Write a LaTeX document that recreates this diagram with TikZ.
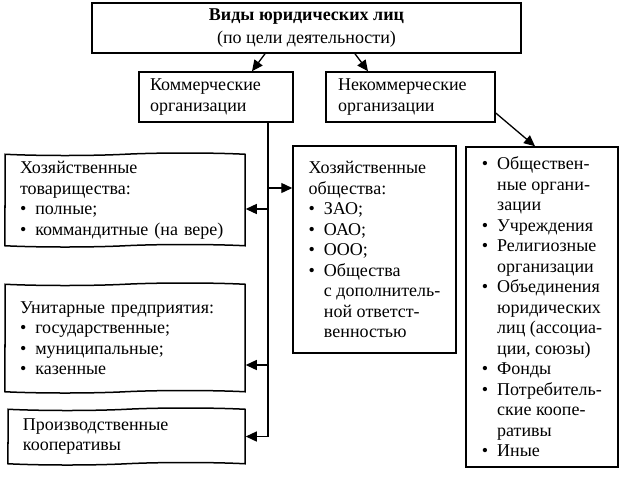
\documentclass[tikz,border=0pt]{standalone}
\usepackage{fontspec}
\setmainfont{Liberation Serif}
\usetikzlibrary{shapes.symbols,arrows.meta}
\newcommand{\itemdot}[1]{\makebox[0.85em][l]{\textbullet}#1}
\newcommand{\itemgap}{\hspace*{0.85em}}
\begin{document}
\begin{tikzpicture}[x=1pt,y=-1pt,
    box/.style = {draw, line width=1.5pt, align=left, inner sep=0pt,
                  font=\fontsize{18}{20.5}\selectfont},
    wavybox/.style = {box, tape, tape bend height=2.5pt},
    link/.style = {line width=1.3pt},
    arr/.style = {link, -{Triangle[length=11pt,width=10pt]}}]
\useasboundingbox (0,0) rectangle (626,488);

\node (top) [box, align=center, minimum width=429pt, minimum height=50pt,
    font=\fontsize{18}{23}\selectfont] at (306.5,28)
    {\textbf{Виды юридических лиц}\\(по цели деятельности)};
\node (com) [box, text width=132pt, minimum width=154pt, minimum height=50pt] at (216,97)
    {Коммерческие\\организации};
\node (noncom) [box, text width=145pt, minimum width=169pt, minimum height=50pt] at (410.5,97)
    {Некоммерческие\\организации};

\node (tov) [wavybox, text width=210pt, minimum width=240pt, minimum height=94pt] at (125,200)
    {Хозяйственные\\товарищества:\\\itemdot{полные;}\\\itemdot{коммандитные (на вере)}};
\node (unit) [wavybox, text width=210pt, minimum width=240pt, minimum height=110pt] at (125,338)
    {Унитарные предприятия:\\\itemdot{государственные;}\\\itemdot{муниципальные;}\\\itemdot{казенные}};
\node (coop) [wavybox, text width=207pt, minimum width=237pt, minimum height=57pt] at (126.5,436.5)
    {Производственные\\кооперативы};

\node (obsh) [box, minimum width=163pt, minimum height=207pt] at (374.5,249.5)
    {Хозяйственные\\общества:\\\itemdot{ЗАО;}\\\itemdot{ОАО;}\\\itemdot{ООО;}\\
     \itemdot{Общества}\\\itemgap с дополнитель-\\\itemgap ной ответст-\\\itemgap венностью};
\node (nonlist) [box, minimum width=152pt, minimum height=320pt] at (542,307)
    {\itemdot{Обществен-}\\\itemgap ные органи-\\\itemgap зации\\\itemdot{Учреждения}\\
     \itemdot{Религиозные}\\\itemgap организации\\\itemdot{Объединения}\\\itemgap юридических\\
     \itemgap лиц (ассоциа-\\\itemgap ции, союзы)\\\itemdot{Фонды}\\\itemdot{Потребитель-}\\
     \itemgap ские коопе-\\\itemgap ративы\\\itemdot{Иные}};

\draw[arr] ([xshift=-41.5pt]top.south) -- ([xshift=36pt]com.north);
\draw[arr] ([xshift=48.5pt]top.south) -- ([xshift=-42.5pt]noncom.north);
\draw[arr] ([yshift=-16pt]noncom.east) -- ([xshift=-7pt]nonlist.north);

\coordinate (trunk) at ([xshift=52pt]com.south);
\draw[link] (trunk) -- (trunk |- coop.east);
\draw[arr] ([yshift=61.5pt]obsh.west -| trunk) -- ([yshift=61.5pt]obsh.west);
\draw[arr] ([yshift=-9pt]tov.east -| trunk) -- ([yshift=-9pt]tov.east);
\draw[arr] ([yshift=-27pt]unit.east -| trunk) -- ([yshift=-27pt]unit.east);
\draw[arr] (coop.east -| trunk) -- (coop.east);

\end{tikzpicture}
\end{document}
